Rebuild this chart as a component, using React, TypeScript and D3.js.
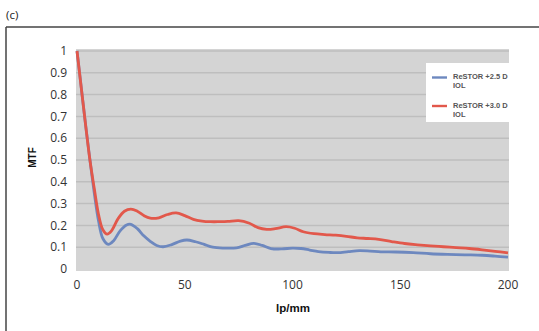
import React from "react";
import * as d3 from "d3";

const redX = [0, 2, 4, 6, 8, 10, 12, 14, 16, 19, 22, 25, 28, 31, 34, 38, 42, 46, 50, 54, 58, 62, 66, 70, 75, 80, 84, 88, 92, 97, 101, 105, 110, 115, 120, 125, 130, 135, 140, 146, 152, 158, 164, 170, 176, 182, 188, 194, 200];
const redY = [1.0, 0.83, 0.66, 0.5, 0.37, 0.25, 0.18, 0.16, 0.175, 0.23, 0.265, 0.275, 0.265, 0.245, 0.233, 0.235, 0.25, 0.257, 0.245, 0.228, 0.22, 0.217, 0.217, 0.218, 0.222, 0.21, 0.19, 0.182, 0.185, 0.194, 0.187, 0.171, 0.162, 0.158, 0.155, 0.15, 0.143, 0.14, 0.136, 0.126, 0.117, 0.111, 0.106, 0.102, 0.098, 0.094, 0.088, 0.081, 0.074];
const blueX = [0, 2, 4, 6, 8, 10, 12, 14.5, 17, 20, 23, 25, 28, 31, 34, 37, 40, 44, 48, 51, 55, 59, 63, 68, 74, 78, 82, 86, 90, 95, 100, 104, 108, 112, 117, 121, 126, 131, 136, 141, 148, 156, 164, 172, 180, 188, 194, 200];
const blueY = [1.0, 0.83, 0.66, 0.5, 0.35, 0.22, 0.14, 0.113, 0.13, 0.175, 0.202, 0.205, 0.185, 0.152, 0.127, 0.108, 0.102, 0.112, 0.128, 0.133, 0.125, 0.113, 0.1, 0.096, 0.097, 0.108, 0.118, 0.108, 0.094, 0.092, 0.096, 0.094, 0.087, 0.08, 0.076, 0.075, 0.08, 0.084, 0.082, 0.079, 0.078, 0.075, 0.07, 0.067, 0.065, 0.063, 0.059, 0.054];

const yTicks = [0, 0.1, 0.2, 0.3, 0.4, 0.5, 0.6, 0.7, 0.8, 0.9, 1];
const xTicks = [0, 50, 100, 150, 200];
const seriesNames = ["ReSTOR +2.5 D", "ReSTOR +3.0 D"];

const BLUE = "#6d88bf";
const RED = "#e2584b";

export default function App() {
  const x = d3.scaleLinear().domain([0, 200]).range([77, 508]);
  const y = d3.scaleLinear().domain([0, 1]).range([269, 51]);
  const line = d3
    .line<[number, number]>()
    .x((d) => x(d[0]))
    .y((d) => y(d[1]))
    .curve(d3.curveCatmullRom.alpha(0.5));
  const red = redX.map((v, i) => [v, redY[i]] as [number, number]);
  const blue = blueX.map((v, i) => [v, blueY[i]] as [number, number]);
  const tickFont = "'Open Sans', sans-serif";
  const boldFont = "'Liberation Sans', Arial, sans-serif";

  return (
    <svg
      width={539}
      height={331}
      style={{ position: "absolute", left: 0, top: 0, background: "#fff" }}
    >
      <text x={6} y={19} fontFamily={tickFont} fontSize={11.5} fill="#222">
        (c)
      </text>
      <line x1={6} y1={27} x2={539} y2={27} stroke="#444" strokeWidth={1.5} />
      <line x1={6} y1={27} x2={6} y2={331} stroke="#444" strokeWidth={1.5} />

      <rect x={76} y={49} width={433} height={222} fill="#d4d4d4" />
      {yTicks.slice(1).map((t) => (
        <line
          key={t}
          x1={76}
          x2={509}
          y1={y(t)}
          y2={y(t)}
          stroke="#bebebe"
          strokeWidth={1.5}
        />
      ))}

      <path d={line(blue) || ""} fill="none" stroke={BLUE} strokeWidth={2.8} strokeLinejoin="round" />
      <path d={line(red) || ""} fill="none" stroke={RED} strokeWidth={2.8} strokeLinejoin="round" />

      {yTicks.map((t) => (
        <text
          key={t}
          x={67}
          y={y(t)}
          dy="0.35em"
          textAnchor="end"
          fontFamily={tickFont}
          fontSize={12}
          fill="#333"
        >
          {String(t)}
        </text>
      ))}
      {xTicks.map((t) => (
        <text
          key={t}
          x={x(t)}
          y={289}
          textAnchor="middle"
          fontFamily={tickFont}
          fontSize={12}
          fill="#333"
        >
          {String(t)}
        </text>
      ))}

      <text
        transform={`translate(36,157.5) rotate(-90)`}
        textAnchor="middle"
        fontFamily={boldFont}
        fontWeight="bold"
        fontSize={10}
        fill="#111"
      >
        MTF
      </text>
      <text
        x={293}
        y={312}
        textAnchor="middle"
        fontFamily={boldFont}
        fontWeight="bold"
        fontSize={11.5}
        fill="#111"
      >
        lp/mm
      </text>

      <rect x={426} y={63} width={98} height={59} fill="#fff" />
      {[0, 1].map((i) => (
        <g key={i}>
          <line
            x1={432}
            x2={447}
            y1={77.5 + i * 28.5}
            y2={77.5 + i * 28.5}
            stroke={i === 0 ? BLUE : RED}
            strokeWidth={2.4}
          />
          <text
            x={453}
            y={78.5 + i * 29}
            fontFamily={boldFont}
            fontWeight="bold"
            fontSize={7.5}
            fill="#555"
          >
            {seriesNames[i]}
          </text>
          <text
            x={453}
            y={87.5 + i * 29}
            fontFamily={boldFont}
            fontWeight="bold"
            fontSize={7.5}
            fill="#555"
          >
            IOL
          </text>
        </g>
      ))}
    </svg>
  );
}
